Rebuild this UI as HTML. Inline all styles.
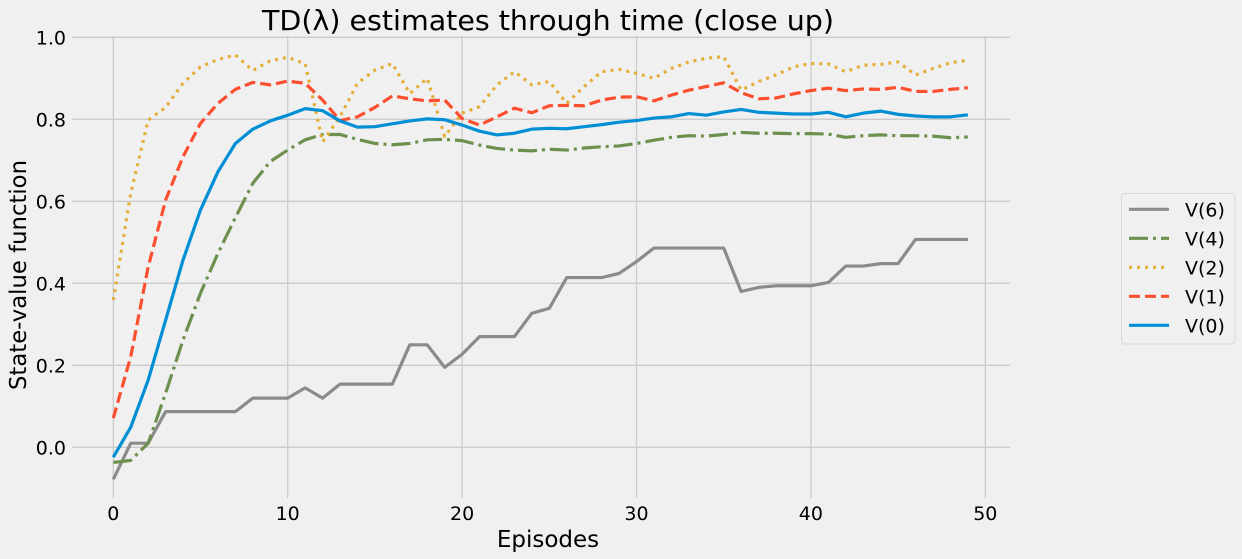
<!DOCTYPE html>
<html><head><meta charset="utf-8"><style>
html,body{margin:0;padding:0;background:#f0f0f0;}
svg{display:block;font-family:"DejaVu Sans","Liberation Sans",sans-serif;}
</style></head><body>
<svg id="chart" width="1242" height="559" viewBox="0 0 1242 559" xmlns="http://www.w3.org/2000/svg">
<rect width="1242" height="559" fill="#f0f0f0"/>
<g id="grid"></g>
<g id="ticks"></g>
<g id="series"></g>
<text x="548" y="30" font-size="28" text-anchor="middle" textLength="572" lengthAdjust="spacingAndGlyphs" fill="#000">TD(λ) estimates through time (close up)</text>
<text x="548" y="547" font-size="23" text-anchor="middle" fill="#000">Episodes</text>
<text x="0" y="0" font-size="23" text-anchor="middle" textLength="230" lengthAdjust="spacingAndGlyphs" fill="#000" transform="translate(26,275) rotate(-90)">State-value function</text>
<g>
<rect x="1121.5" y="193.5" width="113.5" height="150.5" rx="3" fill="#f0f0f0" stroke="#d8d8d8" stroke-width="1"/>
<g id="legend-items"></g>
</g>
</svg>
<script>
const episodes = Array.from({length:50},(_,i)=>i);
const v6 = [-0.078,0.01,0.01,0.087,0.087,0.087,0.087,0.087,0.12,0.12,0.12,0.145,0.12,0.154,0.154,0.154,0.154,0.25,0.25,0.195,0.227,0.27,0.27,0.27,0.327,0.339,0.414,0.414,0.414,0.424,0.453,0.486,0.486,0.486,0.486,0.486,0.38,0.39,0.394,0.394,0.394,0.402,0.442,0.442,0.448,0.448,0.507,0.507,0.507,0.507];
const v4 = [-0.037,-0.032,0.01,0.132,0.262,0.376,0.473,0.56,0.644,0.697,0.725,0.75,0.763,0.763,0.751,0.741,0.738,0.741,0.75,0.751,0.748,0.737,0.729,0.725,0.723,0.727,0.725,0.73,0.733,0.735,0.741,0.749,0.756,0.76,0.759,0.763,0.768,0.766,0.766,0.765,0.765,0.764,0.756,0.76,0.762,0.76,0.76,0.759,0.755,0.757];
const v2 = [0.359,0.62,0.798,0.829,0.888,0.928,0.946,0.957,0.919,0.943,0.951,0.936,0.745,0.806,0.888,0.92,0.936,0.863,0.9,0.758,0.815,0.831,0.884,0.916,0.884,0.892,0.839,0.88,0.916,0.922,0.912,0.9,0.924,0.94,0.949,0.953,0.871,0.892,0.908,0.928,0.936,0.935,0.916,0.932,0.934,0.94,0.908,0.924,0.938,0.944];
const v1 = [0.071,0.221,0.44,0.603,0.709,0.79,0.839,0.873,0.89,0.884,0.893,0.888,0.847,0.797,0.806,0.829,0.857,0.85,0.845,0.847,0.802,0.786,0.806,0.827,0.816,0.833,0.834,0.833,0.847,0.854,0.855,0.845,0.859,0.871,0.88,0.889,0.865,0.85,0.852,0.862,0.87,0.876,0.87,0.874,0.873,0.878,0.868,0.868,0.873,0.877];
const v0 = [-0.024,0.049,0.164,0.31,0.457,0.579,0.672,0.741,0.776,0.796,0.81,0.826,0.821,0.796,0.781,0.782,0.789,0.796,0.801,0.799,0.786,0.771,0.762,0.766,0.776,0.778,0.777,0.782,0.787,0.793,0.797,0.803,0.806,0.814,0.81,0.818,0.824,0.817,0.815,0.813,0.813,0.817,0.806,0.815,0.82,0.812,0.808,0.806,0.806,0.811];
const xTicks = [0,10,20,30,40,50];
const yTicks = [0.0,0.2,0.4,0.6,0.8,1.0];
const seriesNames = ["V(6)","V(4)","V(2)","V(1)","V(0)"];

const NS="http://www.w3.org/2000/svg";
const xS = v => 113.3 + v*17.44;
const yS = v => 447.3 - v*410;
const X0=72, X1=1010, Y0=36, Y1=498;
function mk(tag, attrs, parent){const e=document.createElementNS(NS,tag);for(const k in attrs)e.setAttribute(k,attrs[k]);parent.appendChild(e);return e;}
const grid=document.getElementById('grid'), ticks=document.getElementById('ticks');
xTicks.forEach(t=>{
  const l=mk('line',{x1:xS(t),x2:xS(t),y1:Y0,y2:Y1,stroke:'#cbcbcb','stroke-width':1.3},grid);
  
  
  const tx=mk('text',{x:xS(t),y:520,'font-size':19,'text-anchor':'middle',fill:'#000'},ticks);
  tx.textContent=String(t);
  
  
});
yTicks.forEach(t=>{
  const l=mk('line',{x1:X0,x2:X1,y1:yS(t),y2:yS(t),stroke:'#cbcbcb','stroke-width':1.3},grid);
  
  
  const tx=mk('text',{x:66,y:yS(t)+7,'font-size':19,'text-anchor':'end',fill:'#000'},ticks);
  tx.textContent=t.toFixed(1);
  
  
});
const styles=[
  {d:v6,c:'#8b8b8b',dash:'',name:'v6-line'},
  {d:v4,c:'#6d904f',dash:'19 5 3 5',name:'v4-line'},
  {d:v2,c:'#e5ae38',dash:'3 5',name:'v2-line'},
  {d:v1,c:'#fc4f30',dash:'11 5',name:'v1-line'},
  {d:v0,c:'#008fd5',dash:'',name:'v0-line'}
];
const sg=document.getElementById('series');
styles.forEach(s=>{
  const pts=s.d.map((v,i)=>xS(episodes[i]).toFixed(2)+','+yS(v).toFixed(2)).join(' ');
  const p=mk('polyline',{points:pts,fill:'none',stroke:s.c,'stroke-width':3.2,'stroke-dasharray':s.dash,'stroke-linejoin':'round'},sg);
  
  
});
const lg=document.getElementById('legend-items');
seriesNames.forEach((n,i)=>{
  const y=209.3+i*29;
  const s=styles[i];
  const l=mk('line',{x1:1129,x2:1169,y1:y,y2:y,stroke:s.c,'stroke-width':3.2,'stroke-dasharray':s.dash},lg);
  
  
  const t=mk('text',{x:1185,y:y+7,'font-size':19,fill:'#000'},lg);
  t.textContent=n;
  
  
});
</script>
</body></html>
